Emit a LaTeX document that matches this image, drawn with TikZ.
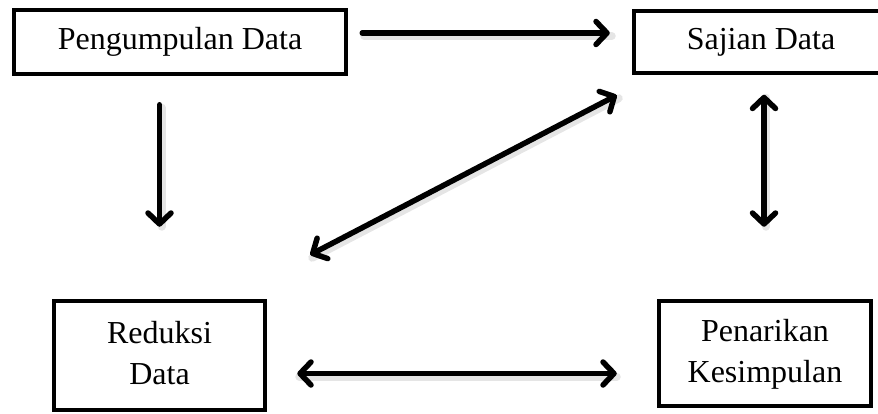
\documentclass[tikz,border=0pt]{standalone}
\usepackage{fontspec}
\setmainfont{Liberation Serif}
\usetikzlibrary{arrows.meta,calc}
\begin{document}
\begin{tikzpicture}[x=1pt,y=-1pt,
  box/.style={draw=black,line width=4.5pt,rectangle,inner sep=0pt,align=center,
    font=\fontsize{32}{41}\selectfont},
  tip/.tip={Straight Barb[round,length=11pt,width=23pt]},
  conn/.style={line width=5.5pt,line cap=round,arrows={-tip}},
  dconn/.style={line width=5.5pt,line cap=round,arrows={tip-tip}},
  shadowline/.style={line width=8pt,draw=black,opacity=0.10,line cap=round}
]
\path[use as bounding box,fill=white] (0,0) rectangle (878,414);
\clip (0,0) rectangle (878,414);

\node[box,minimum width=332pt,minimum height=64pt] (peng) at (180,42) {Pengumpulan Data};
\node[box,minimum width=254pt,minimum height=62pt] (saj) at (761,42) {Sajian Data};
\node[box,minimum width=211pt,minimum height=109pt] (red) at (159.5,355.5) {\strut Reduksi\\Data\strut};
\node[box,minimum width=212pt,minimum height=105pt] (pen) at (765,353.5) {\strut Penarikan\\Kesimpulan\strut};

% shadows
\draw[shadowline] ($(peng.east)+(16,-6)$) -- ($(saj.west)+(-20,-6)$);
\draw[shadowline] ($(red.north)+(2,-191)$) -- ($(red.north)+(2,-72)$);
\draw[shadowline] ($(red.north east)+(45,-41)$) -- ($(saj.south west)+(-13,23)$);
\draw[shadowline] ($(pen.north)+(1,-201)$) -- ($(pen.north)+(1,-72)$);
\draw[shadowline] ($(red.east)+(32,21)$) -- ($(pen.west)+(-40,23)$);

% connectors
\draw[conn] ($(peng.east)+(14,-9)$) -- ($(saj.west)+(-22,-9)$);
\draw[conn] ($(red.north)+(0,-194)$) -- ($(red.north)+(0,-72)$);
\draw[dconn] ($(red.north east)+(43,-44)$) -- ($(saj.south west)+(-15,20)$);
\draw[dconn] ($(pen.north)+(-1,-204)$) -- ($(pen.north)+(-1,-72)$);
\draw[dconn] ($(red.east)+(30,18)$) -- ($(pen.west)+(-40,20)$);
\end{tikzpicture}
\end{document}
